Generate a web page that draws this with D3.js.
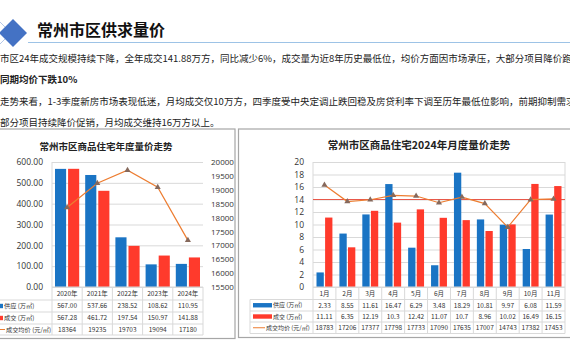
<!DOCTYPE html>
<html>
<head>
<meta charset="utf-8">
<script src="https://cdn.jsdelivr.net/npm/d3@7"></script>
<style>
  body { margin: 0; background: #fff; }
  #container { width: 570px; height: 360px; overflow: hidden; }
  text { font-family: "Noto Sans CJK SC", "Noto Sans", sans-serif; }
</style>
</head>
<body>
<div id="container"></div>
<script>
// yearly data
const years = ['2020年', '2021年', '2022年', '2023年', '2024年'];
const yearSupply = [567.00, 537.66, 238.52, 108.62, 110.95];
const yearDeal = [567.28, 461.72, 197.54, 150.97, 141.88];
const yearPrice = [18364, 19235, 19703, 19094, 17180];
const yearLeftTicks = [0, 100, 200, 300, 400, 500, 600];
const yearRightTicks = [15500, 16000, 16500, 17000, 17500, 18000, 18500, 19000, 19500, 20000];

// monthly data 2024
const months = ['1月', '2月', '3月', '4月', '5月', '6月', '7月', '8月', '9月', '10月', '11月'];
const monthSupply = [2.33, 8.55, 11.61, 16.47, 6.29, 3.48, 18.29, 10.81, 9.97, 6.08, 11.59];
const monthDeal = [11.11, 6.35, 12.19, 10.3, 12.42, 11.07, 10.7, 8.96, 10.02, 16.49, 16.15];
const monthPrice = [18783, 17206, 17377, 17798, 17733, 17090, 17635, 17007, 14743, 17382, 17453];
const monthTicks = [0, 2, 4, 6, 8, 10, 12, 14, 16, 18, 20];

const rowNames = ['供应 (万㎡)', '成交 (万㎡)', '成交均价 (元/㎡)'];

const blue = '#1a74c4';
const red = '#ff3a2c';
const orange = '#ed7d31';
const marker = '#86695c';
const grid = '#d9d9d9';

const svg = d3.select('#container')
    .append('svg')
    .attr('width', 570)
    .attr('height', 360);

// ---- header ----
const diamond = (cx, cy, r) => [[cx, cy - r], [cx + r, cy], [cx, cy + r], [cx - r, cy]].join(' ');
svg.append('polygon')
    .attr('points', diamond(-6, 33, 17))
    .attr('fill', 'none')
    .attr('stroke', '#b4c7e7')
    .attr('stroke-width', 1);
svg.append('polygon')
    .attr('points', diamond(13, 33, 14))
    .attr('fill', '#4472c4');
svg.append('text')
    .attr('x', 37).attr('y', 36)
    .attr('font-size', 16).attr('font-weight', 'bold')
    .attr('fill', '#111')
    .text('常州市区供求量价');
svg.append('line')
    .attr('x1', 28).attr('x2', 570)
    .attr('y1', 42.5).attr('y2', 42.5)
    .attr('stroke', '#9dc3e6').attr('stroke-width', 1.2);

const body = [
    ['市区24年成交规模持续下降，全年成交141.88万方，同比减少6%，成交量为近8年历史最低位，均价方面因市场承压，大部分项目降价跑量', 62, 'normal'],
    ['同期均价下跌10%', 83, 'bold'],
    ['走势来看，1-3季度新房市场表现低迷，月均成交仅10万方，四季度受中央定调止跌回稳及房贷利率下调至历年最低位影响，前期抑制需求释', 105, 'normal'],
    ['部分项目持续降价促销，月均成交维持16万方以上。', 126, 'normal']
];
svg.selectAll('.body')
    .data(body)
    .enter()
    .append('text')
    .attr('class', 'body')
    .attr('x', 0)
    .attr('y', d => d[1])
    .attr('font-size', 9.5)
    .attr('font-weight', d => d[2])
    .attr('fill', '#222')
    .text(d => d[0]);

// ---- panels ----
svg.append('rect')
    .attr('x', -5).attr('y', 129).attr('width', 240).attr('height', 209.5)
    .attr('fill', 'none').attr('stroke', '#a6a6a6').attr('stroke-width', 1.2);
svg.append('rect')
    .attr('x', 238.5).attr('y', 129).attr('width', 340).attr('height', 208.5)
    .attr('fill', 'none').attr('stroke', '#a6a6a6').attr('stroke-width', 1.2);

// common drawing of a combo chart with data table
function comboChart(cfg) {
    const g = svg.append('g');
    const x = d3.scaleBand().domain(cfg.cats).range([cfg.left, cfg.right]);
    const inner = d3.scaleBand().domain([0, 1])
        .range([cfg.barPad, x.bandwidth() - cfg.barPad]).paddingInner(cfg.gap);
    const y = d3.scaleLinear().domain(cfg.yDomain).range([cfg.bottom, cfg.top]);
    const y2 = d3.scaleLinear().domain(cfg.y2Domain).range([cfg.bottom, cfg.top]);

    // gridlines
    g.append('g')
        .attr('transform', `translate(${cfg.left},0)`)
        .call(d3.axisLeft(y).tickValues(cfg.yTicks).tickSize(-(cfg.right - cfg.left)).tickFormat(''))
        .call(a => a.select('.domain').remove())
        .call(a => a.selectAll('line').attr('stroke', grid));
    // plot frame (left and right border)
    g.append('line')
        .attr('x1', cfg.left).attr('x2', cfg.left)
        .attr('y1', cfg.top).attr('y2', cfg.tableRows[cfg.tableRows.length - 1])
        .attr('stroke', grid);
    if (cfg.rightBorder) {
        g.append('line')
            .attr('x1', cfg.right).attr('x2', cfg.right)
            .attr('y1', cfg.top).attr('y2', cfg.bottom)
            .attr('stroke', grid);
    }

    // left axis labels
    g.append('g')
        .attr('transform', `translate(${cfg.left - 6},0)`)
        .call(d3.axisLeft(y).tickValues(cfg.yTicks).tickSize(0).tickFormat(cfg.yFormat))
        .call(a => a.select('.domain').remove())
        .call(a => a.selectAll('text').attr('font-size', cfg.tickSize).attr('fill', '#333')
            .style('font-family', '"Open Sans", sans-serif'));
    if (cfg.y2Ticks) {
        g.append('g')
            .attr('transform', `translate(${cfg.right + 5},0)`)
            .call(d3.axisRight(y2).tickValues(cfg.y2Ticks).tickSize(0).tickFormat(d3.format('d')))
            .call(a => a.select('.domain').remove())
            .call(a => a.selectAll('text').attr('font-size', cfg.tickSize2).attr('fill', '#333')
                .style('font-family', '"Open Sans", sans-serif'));
    }

    if (cfg.refLine !== undefined) {
        g.append('line')
            .attr('x1', cfg.left).attr('x2', cfg.right)
            .attr('y1', y(cfg.refLine)).attr('y2', y(cfg.refLine))
            .attr('stroke', '#e8584a').attr('stroke-width', 1);
    }

    // bars
    const series = [cfg.supply, cfg.deal];
    const colors = [blue, red];
    series.forEach((vals, s) => {
        g.selectAll('.bar' + s)
            .data(vals)
            .enter()
            .append('rect')
            .attr('x', (d, i) => x(cfg.cats[i]) + inner(s))
            .attr('y', d => y(d))
            .attr('width', inner.bandwidth())
            .attr('height', d => cfg.bottom - y(d))
            .attr('fill', colors[s]);
    });

    // price line
    const line = d3.line()
        .x((d, i) => x(cfg.cats[i]) + x.bandwidth() / 2)
        .y(d => y2(d));
    g.append('path')
        .datum(cfg.price)
        .attr('d', line)
        .attr('fill', 'none')
        .attr('stroke', orange)
        .attr('stroke-width', 1.2);
    g.selectAll('.mk')
        .data(cfg.price)
        .enter()
        .append('path')
        .attr('d', d3.symbol(d3.symbolTriangle, 16))
        .attr('transform', (d, i) => `translate(${x(cfg.cats[i]) + x.bandwidth() / 2},${y2(d)})`)
        .attr('fill', marker);

    // data table
    const rows = cfg.tableRows;
    g.append('line')
        .attr('x1', cfg.left).attr('x2', cfg.right)
        .attr('y1', cfg.bottom).attr('y2', cfg.bottom)
        .attr('stroke', grid);
    rows.slice(1).forEach(ry => {
        g.append('line')
            .attr('x1', cfg.tableLeft).attr('x2', cfg.right)
            .attr('y1', ry).attr('y2', ry)
            .attr('stroke', grid);
    });
    g.append('line')
        .attr('x1', cfg.tableLeft).attr('x2', cfg.tableLeft)
        .attr('y1', rows[1]).attr('y2', rows[rows.length - 1])
        .attr('stroke', grid);
    cfg.cats.forEach(c => {
        g.append('line')
            .attr('x1', x(c) + x.bandwidth()).attr('x2', x(c) + x.bandwidth())
            .attr('y1', cfg.bottom).attr('y2', rows[rows.length - 1])
            .attr('stroke', grid);
    });
    g.selectAll('.cat')
        .data(cfg.cats)
        .enter()
        .append('text')
        .attr('x', d => x(d) + x.bandwidth() / 2)
        .attr('y', (rows[0] + rows[1]) / 2 + 2.5)
        .attr('text-anchor', 'middle')
        .attr('font-size', cfg.tableFont)
        .attr('fill', '#333')
        .text(d => d);
    const tableVals = [cfg.supply.map(cfg.valFormat), cfg.deal.map(cfg.valFormat), cfg.price.map(String)];
    tableVals.forEach((vals, r) => {
        const cy = (rows[r + 1] + rows[r + 2]) / 2;
        g.selectAll('.row' + r)
            .data(vals)
            .enter()
            .append('text')
            .attr('x', (d, i) => x(cfg.cats[i]) + x.bandwidth() / 2)
            .attr('y', cy + 2.3)
            .attr('text-anchor', 'middle')
            .attr('font-size', cfg.tableFont)
            .attr('fill', '#333')
            .text(d => d);
        // legend keys, ending where the row label starts
        const tx = cfg.labelX[r];
        if (r < 2) {
            g.append('rect')
                .attr('x', cfg.keyX).attr('y', cy - 2.2)
                .attr('width', tx - 1 - cfg.keyX).attr('height', 4.4)
                .attr('fill', colors[r]);
        } else {
            g.append('line')
                .attr('x1', cfg.keyX).attr('x2', tx - 1)
                .attr('y1', cy).attr('y2', cy)
                .attr('stroke', orange).attr('stroke-width', 1);
        }
        g.append('text')
            .attr('x', tx)
            .attr('y', cy + 2.2)
            .attr('font-size', cfg.labelFont)
            .attr('fill', '#333')
            .text(rowNames[r]);
    });

    // title
    g.append('text')
        .attr('x', cfg.titleX)
        .attr('y', cfg.titleY)
        .attr('text-anchor', 'middle')
        .attr('font-size', cfg.titleSize)
        .attr('font-weight', 'bold')
        .attr('fill', '#222')
        .text(cfg.title);
}

comboChart({
    cats: years, supply: yearSupply, deal: yearDeal, price: yearPrice,
    left: 52, right: 203, top: 162, bottom: 287,
    yDomain: [0, 600], yTicks: yearLeftTicks, yFormat: d3.format('.2f'),
    y2Domain: [15500, 20000], y2Ticks: yearRightTicks,
    barPad: 3, gap: 0.15, rightBorder: false,
    tickSize: 8.5, tickSize2: 8,
    tableRows: [287, 300, 312, 324, 335], tableLeft: -5, tableFont: 6.5, labelFont: 6.2,
    valFormat: d3.format('.2f'), keyX: -14, labelX: [4, 4, 6],
    title: '常州市区商品住宅年度量价走势', titleX: 106, titleY: 150, titleSize: 9.5
});

comboChart({
    cats: months, supply: monthSupply, deal: monthDeal, price: monthPrice,
    left: 313, right: 565, top: 162, bottom: 287,
    yDomain: [0, 20], yTicks: monthTicks, yFormat: d3.format('d'),
    y2Domain: [9000, 21000], y2Ticks: null,
    barPad: 3.5, gap: 0.15, rightBorder: true, refLine: 14,
    tickSize: 8.5,
    tableRows: [287, 299.5, 311, 322, 333.5], tableLeft: 250, tableFont: 6.5, labelFont: 6,
    valFormat: String, keyX: 253, labelX: [273, 273, 266],
    title: '常州市区商品住宅2024年月度量价走势', titleX: 419, titleY: 149, titleSize: 10.5
});
</script>
</body>
</html>
